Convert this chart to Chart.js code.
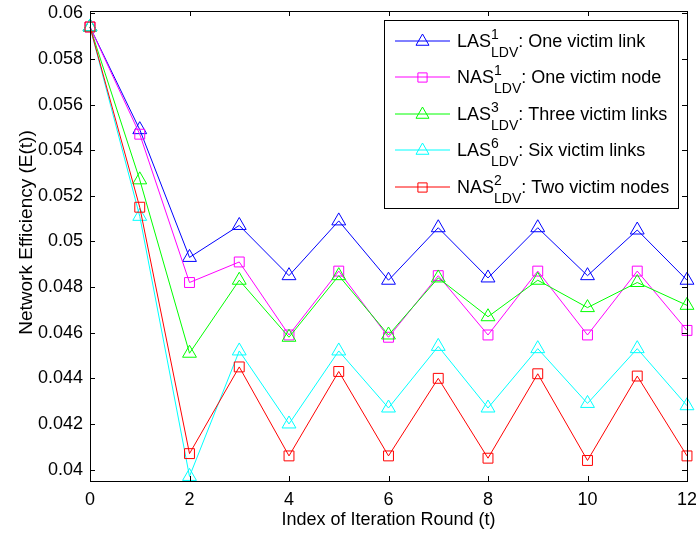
<!DOCTYPE html>
<html>
<head>
<meta charset="utf-8">
<script src="https://cdn.jsdelivr.net/npm/chart.js@4/dist/chart.umd.min.js"></script>
<style>
  html, body { margin: 0; padding: 0; background: #fff; }
  #wrap { width: 696px; height: 533px; }
</style>
</head>
<body>
<div id="wrap"><canvas id="effChart" width="696" height="533"></canvas></div>
<script>
// iteration rounds and network efficiency per attack scenario
const rounds = [0, 1, 2, 3, 4, 5, 6, 7, 8, 9, 10, 11, 12];
const las1 = [0.0594, 0.0549, 0.0493, 0.0507, 0.0485, 0.0509, 0.0483, 0.0506, 0.0484, 0.0506, 0.0485, 0.0505, 0.0483];
const nas1 = [0.0594, 0.0547, 0.0482, 0.0491, 0.0459, 0.0487, 0.0458, 0.0485, 0.0459, 0.0487, 0.0459, 0.0487, 0.0461];
const las3 = [0.0594, 0.0527, 0.0451, 0.0483, 0.0458, 0.0485, 0.0459, 0.0484, 0.0467, 0.0483, 0.0471, 0.0482, 0.0472];
const las6 = [0.0594, 0.0511, 0.0397, 0.0452, 0.0420, 0.0452, 0.0427, 0.0454, 0.0427, 0.0453, 0.0429, 0.0453, 0.0428];
const nas2 = [0.0594, 0.0515, 0.0407, 0.0445, 0.0406, 0.0443, 0.0406, 0.0440, 0.0405, 0.0442, 0.0404, 0.0441, 0.0406];

const xTicks = [0, 2, 4, 6, 8, 10, 12];
const yTicks = [0.04, 0.042, 0.044, 0.046, 0.048, 0.05, 0.052, 0.054, 0.056, 0.058, 0.06];
const yTickLabels = ['0.04', '0.042', '0.044', '0.046', '0.048', '0.05', '0.052', '0.054', '0.056', '0.058', '0.06'];

const yTitle = 'Network Efficiency (E(t))';
const xTitle = 'Index of Iteration Round (t)';

const legendBase = ['LAS', 'NAS', 'LAS', 'LAS', 'NAS'];
const legendSup = ['1', '1', '3', '6', '2'];
const legendSub = 'LDV';
const legendDesc = [': One victim link', ': One victim node', ': Three victim links', ': Six victim links', ': Two victim nodes'];

const seriesValues = [las1, nas1, las3, las6, nas2];
const seriesColors = ['#0000ff', '#ff00ff', '#00ff00', '#00ffff', '#ff0000'];
const seriesMarkers = ['triangle', 'rect', 'triangle', 'triangle', 'rect'];

const FONT = '"Liberation Sans", Arial, Helvetica, sans-serif';

function markerRadius(style) {
  return style === 'triangle' ? 8 : 7;
}

// box around the plot with inward tick marks on all four sides
const axesBox = {
  id: 'axesBox',
  afterDatasetsDraw(chart) {
    const { ctx, chartArea: a, scales: { x, y } } = chart;
    const len = 5;
    ctx.save();
    ctx.strokeStyle = '#000';
    ctx.lineWidth = 1;
    ctx.beginPath();
    xTicks.forEach(v => {
      const px = Math.round(x.getPixelForValue(v)) + 0.5;
      ctx.moveTo(px, a.bottom); ctx.lineTo(px, a.bottom - len);
      ctx.moveTo(px, a.top); ctx.lineTo(px, a.top + len);
    });
    yTicks.forEach(v => {
      const py = Math.round(y.getPixelForValue(v)) + 0.5;
      ctx.moveTo(a.left, py); ctx.lineTo(a.left + len, py);
      ctx.moveTo(a.right, py); ctx.lineTo(a.right - len, py);
    });
    ctx.stroke();
    ctx.strokeRect(Math.round(a.left) + 0.5, Math.round(a.top) + 0.5,
      Math.round(a.width), Math.round(a.height));

    // rotated y axis title
    ctx.translate(32, 232.5);
    ctx.rotate(-Math.PI / 2);
    ctx.fillStyle = '#000';
    ctx.font = '19px ' + FONT;
    ctx.textAlign = 'center';
    ctx.textBaseline = 'alphabetic';
    ctx.fillText(yTitle, 0, 0);
    ctx.restore();
  }
};

// legend with super/subscripted scheme names, top right inside the axes
const mathLegend = {
  id: 'mathLegend',
  afterDraw(chart) {
    const ctx = chart.ctx;
    const box = { left: 384.5, top: 20.5, right: 678.5, bottom: 208.5 };
    const rowY0 = 41, rowStep = 36.4;
    ctx.save();
    ctx.fillStyle = '#fff';
    ctx.fillRect(box.left, box.top, box.right - box.left, box.bottom - box.top);
    ctx.strokeStyle = '#000';
    ctx.lineWidth = 1;
    ctx.strokeRect(box.left, box.top, box.right - box.left, box.bottom - box.top);

    legendBase.forEach((base, i) => {
      const yc = Math.round(rowY0 + i * rowStep);
      ctx.strokeStyle = seriesColors[i];
      ctx.lineWidth = 1;
      ctx.beginPath();
      ctx.moveTo(395, yc); ctx.lineTo(450, yc);
      ctx.stroke();
      ctx.fillStyle = 'rgba(0,0,0,0)';
      Chart.helpers.drawPoint(ctx, {
        pointStyle: seriesMarkers[i],
        radius: markerRadius(seriesMarkers[i]) - 0.5,
        rotation: 0,
        borderWidth: 1
      }, 422.5, yc + 0.5);

      ctx.fillStyle = '#000';
      ctx.textBaseline = 'alphabetic';
      ctx.textAlign = 'left';
      let x = 457;
      ctx.font = '18px ' + FONT;
      ctx.fillText(base, x, yc + 6);
      x += ctx.measureText(base).width;
      ctx.font = '14px ' + FONT;
      ctx.fillText(legendSup[i], x, yc - 2);
      ctx.fillText(legendSub, x, yc + 16);
      x += Math.max(ctx.measureText(legendSup[i]).width, ctx.measureText(legendSub).width);
      ctx.font = '18px ' + FONT;
      ctx.fillText(legendDesc[i], x, yc + 6);
    });
    ctx.restore();
  }
};

const datasets = seriesValues.map((vals, i) => ({
  label: legendBase[i] + legendSup[i] + legendSub + legendDesc[i],
  data: rounds.map((t, k) => ({ x: t, y: vals[k] })),
  borderColor: seriesColors[i],
  borderWidth: 1,
  pointStyle: seriesMarkers[i],
  pointRadius: markerRadius(seriesMarkers[i]),
  pointBorderColor: seriesColors[i],
  pointBackgroundColor: 'rgba(0,0,0,0)',
  pointBorderWidth: 1,
  tension: 0,
  clip: false,
  order: seriesValues.length - i
}));

function pinScale(size, prop) {
  return s => {
    s[prop] = size;
    s.paddingLeft = 0; s.paddingRight = 0; s.paddingTop = 0; s.paddingBottom = 0;
  };
}

new Chart(document.getElementById('effChart'), {
  type: 'line',
  data: { datasets },
  options: {
    responsive: false,
    devicePixelRatio: 1,
    animation: false,
    layout: { padding: { top: 11, right: 9, left: 0, bottom: 0 } },
    plugins: { legend: { display: false }, tooltip: { enabled: false } },
    scales: {
      x: {
        type: 'linear',
        min: 0,
        max: 12,
        afterBuildTicks: s => { s.ticks = xTicks.map(v => ({ value: v })); },
        afterFit: pinScale(52, 'height'),
        grid: { display: false, drawTicks: false, tickLength: 0 },
        border: { display: false },
        ticks: { color: '#000', font: { size: 18, family: FONT }, padding: 8, maxRotation: 0 },
        title: {
          display: true,
          text: xTitle,
          color: '#000',
          font: { size: 18, family: FONT },
          padding: { top: 0, bottom: 2 }
        }
      },
      y: {
        type: 'linear',
        min: 0.0395,
        max: 0.0601,
        afterBuildTicks: s => { s.ticks = yTicks.map(v => ({ value: v })); },
        afterFit: pinScale(90, 'width'),
        grid: { display: false, drawTicks: false, tickLength: 0 },
        border: { display: false },
        ticks: {
          color: '#000',
          font: { size: 18, family: FONT },
          padding: 7,
          callback: (v, idx) => yTickLabels[idx]
        }
      }
    }
  },
  plugins: [axesBox, mathLegend]
});
</script>
</body>
</html>
